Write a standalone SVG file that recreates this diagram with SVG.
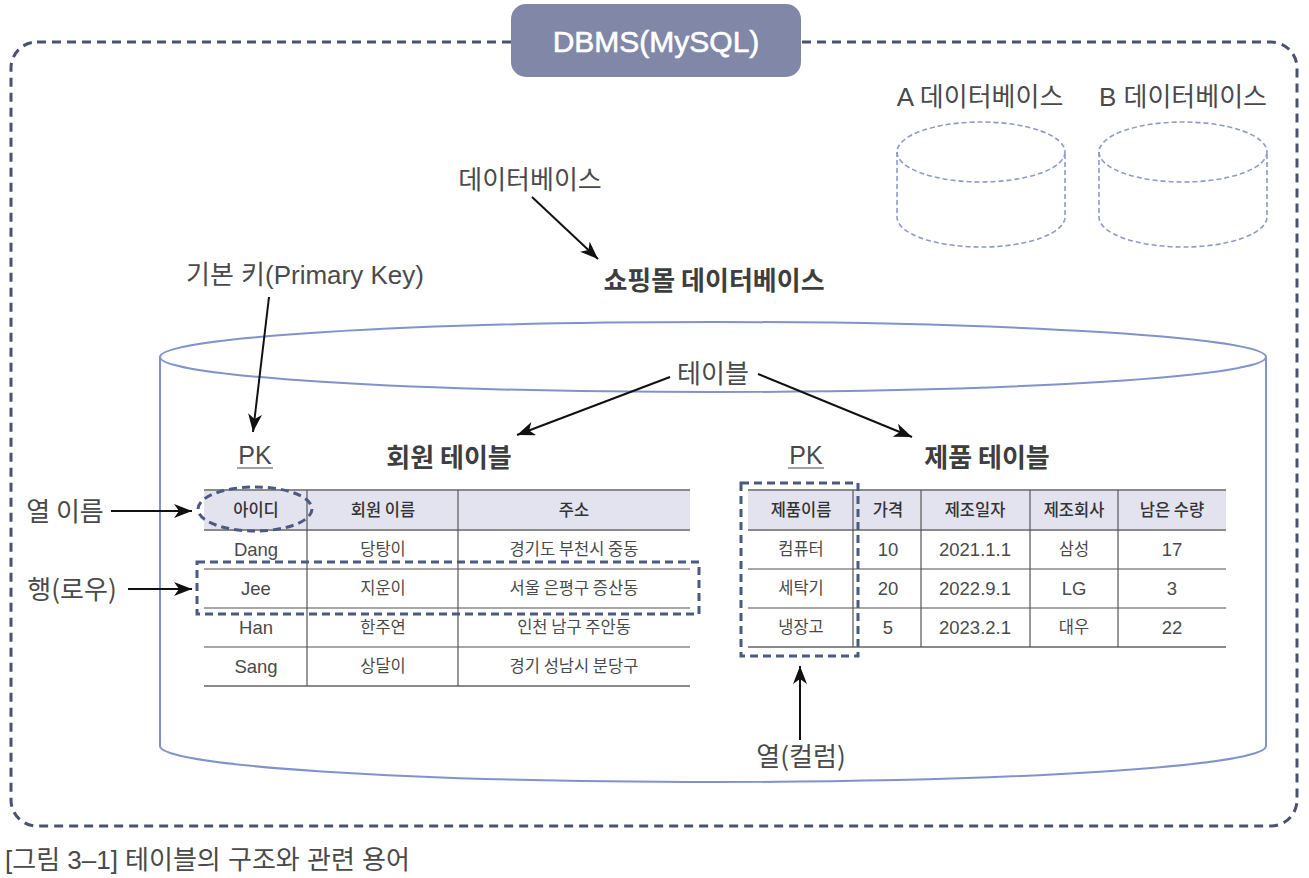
<svg xmlns="http://www.w3.org/2000/svg" width="1309" height="878" viewBox="0 0 1309 878">
<style>
.t{font-family:"Liberation Sans","Noto Sans CJK KR",sans-serif;fill:#4a4a4a;}
.k{font-family:"Noto Sans CJK KR","Liberation Sans",sans-serif;fill:#4a4a4a;}
.lbl{font-size:26px;}
.ttl{font-size:26px;font-weight:bold;fill:#3e3e3e;}
.cell{font-size:16.5px;text-anchor:middle;}
.t.cell{font-size:18.5px;}
.hd{font-size:16.5px;font-weight:500;text-anchor:middle;fill:#333;}
.mid{text-anchor:middle;}
.arrow{stroke:#111;stroke-width:2;fill:none;marker-end:url(#ah);}
.hl{stroke:#8a8a8a;stroke-width:2;}
.rl{stroke:#8a8a8a;stroke-width:1.5;}
.vl{stroke:#555;stroke-width:1.2;}
.mark{fill:none;stroke:#4b5a80;stroke-width:3;stroke-dasharray:8 5;}
.cyl{fill:none;stroke:#8193cc;stroke-width:2;}
.sc{fill:none;stroke:#8e9bc8;stroke-width:1.6;stroke-dasharray:5 3;}
</style>
<defs>
<marker id="ah" markerUnits="userSpaceOnUse" markerWidth="20" markerHeight="14" refX="18" refY="7" orient="auto">
<path d="M0,0 L18,7 L0,14 L5,7 z" fill="#111"/>
</marker>
</defs>
<rect width="1309" height="878" fill="#fff"/>

<g id="dbms">
<rect x="11" y="42" width="1286" height="784" rx="26" fill="none" stroke="#4a5270" stroke-width="3" stroke-dasharray="9 6"/>
<rect x="511" y="4" width="290" height="73" rx="15" fill="#8188a7"/>
<text x="656" y="52" font-family="Liberation Sans, sans-serif" font-size="30" fill="#fff" stroke="#fff" stroke-width="0.6" text-anchor="middle">DBMS(MySQL)</text>
</g>

<g id="db-a">
<text class="t lbl mid" x="980" y="106">A 데이터베이스</text>
<ellipse class="sc" cx="981" cy="152" rx="84" ry="30"/>
<path class="sc" d="M897,152 V217 A84,30 0 0 0 1065,217 V152"/>
</g>
<g id="db-b">
<text class="t lbl mid" x="1183" y="106">B 데이터베이스</text>
<ellipse class="sc" cx="1183" cy="152" rx="84" ry="30"/>
<path class="sc" d="M1099,152 V217 A84,30 0 0 0 1267,217 V152"/>
</g>

<g id="label-db">
<text class="k lbl mid" x="530" y="189">데이터베이스</text>
</g>

<g id="shop-db">
<ellipse class="cyl" cx="713" cy="357" rx="553" ry="35"/>
<path class="cyl" d="M160,357 V746 A553,36 0 0 0 1266,746 V357"/>
<text class="k ttl mid" x="714" y="290">쇼핑몰 데이터베이스</text>
</g>

<g id="label-pk">
<text class="t lbl mid" x="305" y="284">기본 키(Primary Key)</text>
</g>
<g id="label-table">
<text class="k lbl mid" x="713" y="383">테이블</text>
</g>

<g id="member-table">
<text class="t mid" x="255" y="464" font-size="25">PK</text>
<line x1="237" y1="468" x2="273" y2="468" stroke="#4a4a4a" stroke-width="1.2"/>
<text class="k ttl mid" x="449" y="467">회원 테이블</text>
<rect x="204" y="490" width="486" height="40" fill="#e3e3ef"/>
<line class="hl" x1="204" y1="490" x2="690" y2="490"/>
<line class="hl" x1="204" y1="530" x2="690" y2="530"/>
<line class="rl" x1="204" y1="569" x2="690" y2="569"/>
<line class="rl" x1="204" y1="608" x2="690" y2="608"/>
<line class="rl" x1="204" y1="647" x2="690" y2="647"/>
<line class="hl" x1="204" y1="686" x2="690" y2="686"/>
<line class="vl" x1="307" y1="490" x2="307" y2="686"/>
<line class="vl" x1="458" y1="490" x2="458" y2="686"/>
<text class="k hd" x="256" y="516">아이디</text>
<text class="k hd" x="383" y="516">회원 이름</text>
<text class="k hd" x="574" y="516">주소</text>
<text class="t cell" x="256" y="556">Dang</text>
<text class="k cell" x="383" y="555">당탕이</text>
<text class="k cell" x="574" y="555">경기도 부천시 중동</text>
<text class="t cell" x="256" y="595">Jee</text>
<text class="k cell" x="383" y="594">지운이</text>
<text class="k cell" x="574" y="594">서울 은평구 증산동</text>
<text class="t cell" x="256" y="634">Han</text>
<text class="k cell" x="383" y="633">한주연</text>
<text class="k cell" x="574" y="633">인천 남구 주안동</text>
<text class="t cell" x="256" y="673">Sang</text>
<text class="k cell" x="383" y="672">상달이</text>
<text class="k cell" x="574" y="672">경기 성남시 분당구</text>
<ellipse class="mark" cx="255" cy="509" rx="57" ry="22"/>
<rect class="mark" x="197" y="562" width="502" height="52"/>
</g>

<g id="product-table">
<text class="t mid" x="806" y="464" font-size="25">PK</text>
<line x1="788" y1="468" x2="824" y2="468" stroke="#4a4a4a" stroke-width="1.2"/>
<text class="k ttl mid" x="987" y="467">제품 테이블</text>
<rect x="748" y="490" width="478" height="40" fill="#e3e3ef"/>
<line class="hl" x1="748" y1="490" x2="1226" y2="490"/>
<line class="hl" x1="748" y1="530" x2="1226" y2="530"/>
<line class="rl" x1="748" y1="569" x2="1226" y2="569"/>
<line class="rl" x1="748" y1="608" x2="1226" y2="608"/>
<line class="hl" x1="748" y1="647" x2="1226" y2="647"/>
<line class="vl" x1="853" y1="490" x2="853" y2="647"/>
<line class="vl" x1="921" y1="490" x2="921" y2="647"/>
<line class="vl" x1="1030" y1="490" x2="1030" y2="647"/>
<line class="vl" x1="1118" y1="490" x2="1118" y2="647"/>
<text class="k hd" x="801" y="516">제품이름</text>
<text class="k hd" x="888" y="516">가격</text>
<text class="k hd" x="975" y="516">제조일자</text>
<text class="k hd" x="1074" y="516">제조회사</text>
<text class="k hd" x="1172" y="516">남은 수량</text>
<text class="k cell" x="801" y="555">컴퓨터</text>
<text class="t cell" x="888" y="556">10</text>
<text class="t cell" x="975" y="556">2021.1.1</text>
<text class="k cell" x="1074" y="555">삼성</text>
<text class="t cell" x="1172" y="556">17</text>
<text class="k cell" x="801" y="594">세탁기</text>
<text class="t cell" x="888" y="595">20</text>
<text class="t cell" x="975" y="595">2022.9.1</text>
<text class="t cell" x="1074" y="595">LG</text>
<text class="t cell" x="1172" y="595">3</text>
<text class="k cell" x="801" y="633">냉장고</text>
<text class="t cell" x="888" y="634">5</text>
<text class="t cell" x="975" y="634">2023.2.1</text>
<text class="k cell" x="1074" y="633">대우</text>
<text class="t cell" x="1172" y="634">22</text>
<rect class="mark" x="741" y="483" width="117" height="173"/>
</g>

<g id="label-colname"><text class="k lbl mid" x="65" y="521">열 이름</text></g>
<g id="label-row"><text class="k lbl mid" x="72" y="599">행(로우)</text></g>
<g id="label-col"><text class="k lbl mid" x="801" y="766">열(컬럼)</text></g>

<g id="connectors">
<line class="arrow" x1="532" y1="197" x2="598" y2="259"/>
<line class="arrow" x1="269" y1="297" x2="253" y2="432"/>
<line class="arrow" x1="670" y1="377" x2="517" y2="435"/>
<line class="arrow" x1="758" y1="374" x2="912" y2="437"/>
<line class="arrow" x1="111" y1="511" x2="192" y2="511"/>
<line class="arrow" x1="128" y1="589" x2="192" y2="589"/>
<line class="arrow" x1="800" y1="740" x2="800" y2="666"/>
</g>

<g id="caption">
<text class="t" x="5" y="869" font-size="26" fill="#333">[그림 3–1] 테이블의 구조와 관련 용어</text>
</g>
</svg>
